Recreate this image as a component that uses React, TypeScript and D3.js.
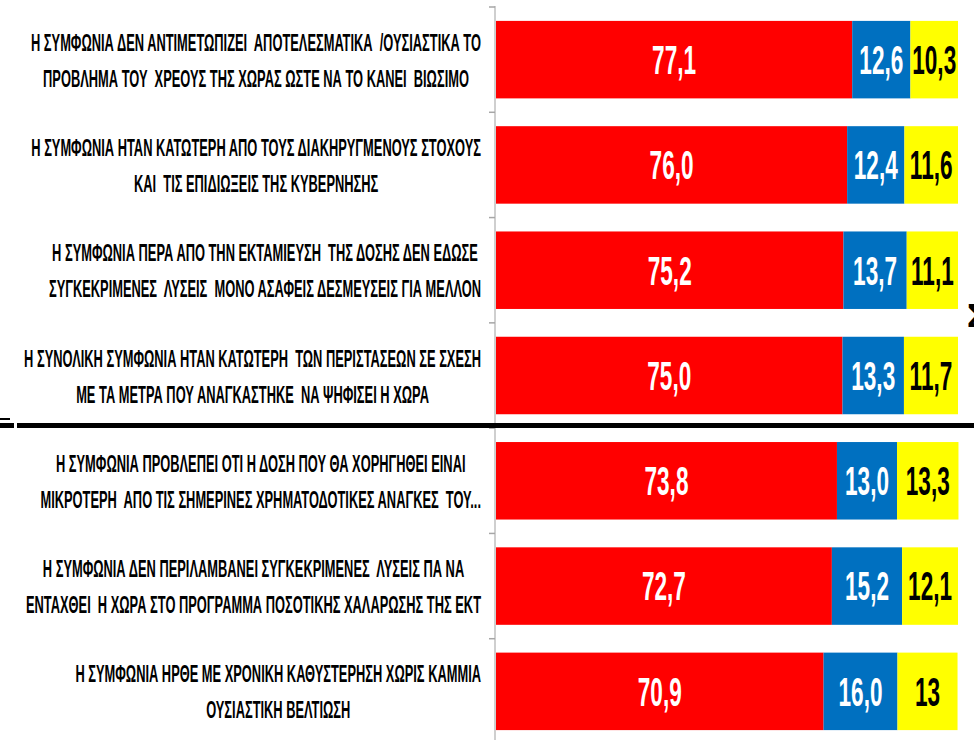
import React, { useLayoutEffect, useRef, useState } from "react";
import * as d3 from "d3";

const labels: string[][] = [
  ["Η ΣΥΜΦΩΝΙΑ ΔΕΝ ΑΝΤΙΜΕΤΩΠΙΖΕΙ  ΑΠΟΤΕΛΕΣΜΑΤΙΚΑ  /ΟΥΣΙΑΣΤΙΚΑ ΤΟ", "ΠΡΟΒΛΗΜΑ ΤΟΥ  ΧΡΕΟΥΣ ΤΗΣ ΧΩΡΑΣ ΩΣΤΕ ΝΑ ΤΟ ΚΑΝΕΙ  ΒΙΩΣΙΜΟ"],
  ["Η ΣΥΜΦΩΝΙΑ ΗΤΑΝ ΚΑΤΩΤΕΡΗ ΑΠΟ ΤΟΥΣ ΔΙΑΚΗΡΥΓΜΕΝΟΥΣ ΣΤΟΧΟΥΣ", "ΚΑΙ  ΤΙΣ ΕΠΙΔΙΩΞΕΙΣ ΤΗΣ ΚΥΒΕΡΝΗΣΗΣ"],
  ["Η ΣΥΜΦΩΝΙΑ ΠΕΡΑ ΑΠΟ ΤΗΝ ΕΚΤΑΜΙΕΥΣΗ  ΤΗΣ ΔΟΣΗΣ ΔΕΝ ΕΔΩΣΕ", "ΣΥΓΚΕΚΡΙΜΕΝΕΣ  ΛΥΣΕΙΣ  ΜΟΝΟ ΑΣΑΦΕΙΣ ΔΕΣΜΕΥΣΕΙΣ ΓΙΑ ΜΕΛΛΟΝ"],
  ["Η ΣΥΝΟΛΙΚΗ ΣΥΜΦΩΝΙΑ ΗΤΑΝ ΚΑΤΩΤΕΡΗ  ΤΩΝ ΠΕΡΙΣΤΑΣΕΩΝ ΣΕ ΣΧΕΣΗ", "ΜΕ ΤΑ ΜΕΤΡΑ ΠΟΥ ΑΝΑΓΚΑΣΤΗΚΕ  ΝΑ ΨΗΦΙΣΕΙ Η ΧΩΡΑ"],
  ["Η ΣΥΜΦΩΝΙΑ ΠΡΟΒΛΕΠΕΙ ΟΤΙ Η ΔΟΣΗ ΠΟΥ ΘΑ ΧΟΡΗΓΗΘΕΙ ΕΙΝΑΙ", "ΜΙΚΡΟΤΕΡΗ  ΑΠΟ ΤΙΣ ΣΗΜΕΡΙΝΕΣ ΧΡΗΜΑΤΟΔΟΤΙΚΕΣ ΑΝΑΓΚΕΣ  ΤΟΥ..."],
  ["Η ΣΥΜΦΩΝΙΑ ΔΕΝ ΠΕΡΙΛΑΜΒΑΝΕΙ ΣΥΓΚΕΚΡΙΜΕΝΕΣ  ΛΥΣΕΙΣ ΠΑ ΝΑ", "ΕΝΤΑΧΘΕΙ  Η ΧΩΡΑ ΣΤΟ ΠΡΟΓΡΑΜΜΑ ΠΟΣΟΤΙΚΗΣ ΧΑΛΑΡΩΣΗΣ ΤΗΣ ΕΚΤ"],
  ["Η ΣΥΜΦΩΝΙΑ ΗΡΘΕ ΜΕ ΧΡΟΝΙΚΗ ΚΑΘΥΣΤΕΡΗΣΗ ΧΩΡΙΣ ΚΑΜΜΙΑ", "ΟΥΣΙΑΣΤΙΚΗ ΒΕΛΤΙΩΣΗ"],
];

const redValues = ["77,1", "76,0", "75,2", "75,0", "73,8", "72,7", "70,9"];
const blueValues = ["12,6", "12,4", "13,7", "13,3", "13,0", "15,2", "16,0"];
const yellowValues = ["10,3", "11,6", "11,1", "11,7", "13,3", "12,1", "13"];

const seriesColors = ["#FF0000", "#0070C0", "#FFFF00"];
const seriesTextColors = ["#FFFFFF", "#FFFFFF", "#000000"];

const W = 974;
const H = 740;

const FONT = "'Liberation Sans Narrow', 'Liberation Sans', Arial, sans-serif";
const LABEL_SIZE = 24;
const LABEL_REF_WIDTH = 450; // width of the first label line in the picture
const VALUE_SIZE = 40;
const VALUE_REF_WIDTH = 44; // advance width of "77,1"

const parse = (s: string) => parseFloat(s.replace(",", "."));

export default function App() {
  const idx = d3.range(labels.length);
  const series = [redValues, blueValues, yellowValues];
  const measureRef = useRef<SVGGElement>(null);
  const [m, setM] = useState<{ labelSx: number; valueSx: number; widths: number[][] } | null>(null);

  useLayoutEffect(() => {
    const g = measureRef.current;
    if (!g) return;
    const texts = Array.from(g.querySelectorAll("text")) as SVGTextElement[];
    const lens = texts.map((t) => t.getComputedTextLength());
    const widths: number[][] = [];
    let k = 0;
    labels.forEach((lines) => {
      widths.push(lines.map(() => lens[k++]));
    });
    const valueLen = lens[k];
    const labelSx = LABEL_REF_WIDTH / widths[0][0];
    const valueSx = VALUE_REF_WIDTH / valueLen;
    setM({ labelSx, valueSx, widths });
  }, []);

  const x = d3.scaleLinear().domain([0, 100]).range([496, 958]);
  const y = d3
    .scaleBand<number>()
    .domain(idx)
    .range([7, 744])
    .paddingInner(0.264)
    .paddingOuter(0.132);

  const stack = d3
    .stack<number>()
    .keys(["0", "1", "2"])
    .value((i, key) => parse(series[+key][i]));
  const stacked = stack(idx);

  const step = y.step();
  const tickYs = d3.range(labels.length + 1).map((i) => y.range()[0] + i * step);
  const axisX = 495;
  const labelRight = 481;

  if (!m) {
    return (
      <svg width={W} height={H} style={{ position: "absolute", left: 0, top: 0 }}>
        <g ref={measureRef} visibility="hidden">
          {labels.flatMap((lines, i) =>
            lines.map((line, li) => (
              <text
                key={i + "-" + li}
                fontFamily={FONT}
                fontWeight="bold"
                fontSize={LABEL_SIZE}
                style={{ whiteSpace: "pre" }}
              >
                {line}
              </text>
            ))
          )}
          <text fontFamily={FONT} fontWeight="bold" fontSize={VALUE_SIZE}>
            {redValues[0]}
          </text>
        </g>
      </svg>
    );
  }

  return (
    <svg
      width={W}
      height={H}
      style={{ position: "absolute", left: 0, top: 0, background: "#fff" }}
    >
      {/* bars */}
      {stacked.map((layer, si) => (
        <g key={si}>
          {layer.map((d, i) => (
            <rect
              key={i}
              x={x(d[0])}
              y={y(i)!}
              width={x(d[1]) - x(d[0])}
              height={y.bandwidth()}
              fill={seriesColors[si]}
            />
          ))}
        </g>
      ))}

      {/* value labels */}
      {stacked.map((layer, si) => (
        <g key={"v" + si}>
          {layer.map((d, i) => {
            const cx = (x(d[0]) + x(d[1])) / 2;
            const cy = y(i)! + y.bandwidth() / 2;
            return (
              <text
                key={i}
                transform={`translate(${cx},${cy + VALUE_SIZE * 0.36}) scale(${m.valueSx},1)`}
                textAnchor="middle"
                fontFamily={FONT}
                fontWeight="bold"
                fontSize={VALUE_SIZE}
                fill={seriesTextColors[si]}
              >
                {series[si][i]}
              </text>
            );
          })}
        </g>
      ))}

      {/* axis */}
      <line x1={axisX} x2={axisX} y1={tickYs[0] - 1} y2={H} stroke="#BFBFBF" strokeWidth={1.5} />
      {tickYs.map((t, i) => (
        <line key={i} x1={axisX - 6} x2={axisX} y1={t} y2={t} stroke="#A6A6A6" strokeWidth={1.5} />
      ))}

      {/* category labels */}
      {labels.map((lines, i) => {
        const cy = y(i)! + y.bandwidth() / 2;
        const maxW = d3.max(m.widths[i])! * m.labelSx;
        const cx = labelRight - maxW / 2;
        const offsets = [-9, 27];
        return (
          <g key={"l" + i}>
            {lines.map((line, li) => (
              <text
                key={li}
                transform={`translate(${cx},${cy + offsets[li]}) scale(${m.labelSx},1)`}
                textAnchor="middle"
                fontFamily={FONT}
                fontWeight="bold"
                fontSize={LABEL_SIZE}
                fill="#000"
                style={{ whiteSpace: "pre" }}
              >
                {line}
              </text>
            ))}
          </g>
        );
      })}

      {/* divider */}
      <rect x={17} y={423} width={W - 17} height={5} fill="#000" />
      <rect x={0} y={423} width={14} height={5} fill="#000" />
      <rect x={0} y={418} width={10} height={2} fill="#000" />

      {/* cropped symbol at right edge */}
      <text x={967} y={327} fontFamily={FONT} fontWeight="bold" fontSize={34} fill="#000">
        Σ
      </text>
    </svg>
  );
}
